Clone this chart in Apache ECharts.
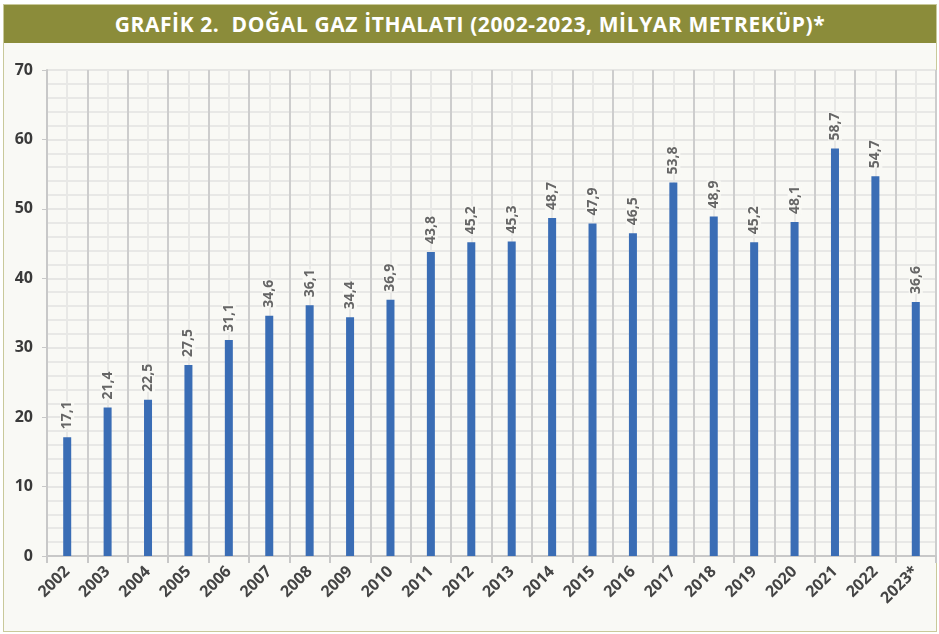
<!DOCTYPE html>
<html>
<head>
<meta charset="utf-8">
<script src="https://cdn.jsdelivr.net/npm/echarts@6/dist/echarts.min.js"></script>
<style>
  html, body { margin: 0; padding: 0; background: #ffffff; }
  .frame {
    position: absolute; left: 3px; top: 4px; width: 932px; height: 626px;
    border: 1px solid #c9c99a; background: #f9f9f5;
  }
  .title {
    height: 38px; background: #8b8c3a; color: #fff;
    font-family: "Open Sans", sans-serif; font-weight: bold; font-size: 21px;
    line-height: 38px; text-align: center; letter-spacing: 0.6px;
  }
  #chart { position: absolute; left: 0; top: 0; width: 939px; height: 634px; }
</style>
</head>
<body>
<div class="frame"><div class="title">GRAFİK 2.&nbsp; DOĞAL GAZ İTHALATI (2002-2023, MİLYAR METREKÜP)*</div></div>
<div id="chart"></div>
<script>
  // yıllar ve ithalat miktarları (milyar m3)
  var years = ['2002', '2003', '2004', '2005', '2006', '2007', '2008', '2009', '2010', '2011', '2012',
    '2013', '2014', '2015', '2016', '2017', '2018', '2019', '2020', '2021', '2022', '2023*'];
  var imports = [17.1, 21.4, 22.5, 27.5, 31.1, 34.6, 36.1, 34.4, 36.9, 43.8, 45.2,
    45.3, 48.7, 47.9, 46.5, 53.8, 48.9, 45.2, 48.1, 58.7, 54.7, 36.6];

  var chart = echarts.init(document.getElementById('chart'));
  chart.setOption({
    animation: false,
    grid: { left: 47, right: 3, top: 70, bottom: 78 },
    xAxis: [
      {
        type: 'category',
        data: years,
        axisLine: { lineStyle: { color: '#c8c8c8', width: 2 } },
        axisTick: { show: true, length: 7, lineStyle: { color: '#c8c8c8', width: 2 } },
        splitLine: { show: false },
        axisLabel: {
          rotate: 45, margin: 13, color: '#444',
          fontFamily: 'Open Sans', fontWeight: 'bold', fontSize: 16
        }
      },
      {
        type: 'value', min: 0, max: 22, interval: 1, show: true, position: 'bottom',
        axisLine: { show: false }, axisTick: { show: false }, axisLabel: { show: false },
        splitLine: { show: true, lineStyle: { color: '#cdcdcd', width: 2 } },
        minorTick: { show: false, splitNumber: 2 },
        minorSplitLine: { show: true, lineStyle: { color: '#e8e8e6', width: 2 } }
      }
    ],
    yAxis: {
      type: 'value', min: 0, max: 70, interval: 10,
      axisLine: { show: true, lineStyle: { color: '#c8c8c8', width: 2 } },
      axisTick: { show: true, length: 5, lineStyle: { color: '#c8c8c8' } },
      axisLabel: {
        margin: 14, color: '#3a3a3a',
        fontFamily: 'Open Sans', fontWeight: 'bold', fontSize: 16
      },
      splitLine: { show: true, lineStyle: { color: '#e6e6e4', width: 2 } },
      minorTick: { show: false, splitNumber: 5 },
      minorSplitLine: { show: true, lineStyle: { color: '#e8e8e6', width: 2 } }
    },
    series: [
      {
        type: 'bar',
        xAxisIndex: 0,
        data: imports,
        barWidth: 8,
        itemStyle: { color: '#3a6db5' },
        label: {
          show: true, position: 'top', rotate: 90, align: 'left', verticalAlign: 'middle',
          distance: 8, color: '#666', fontFamily: 'Open Sans', fontWeight: 'bold', fontSize: 14,
          backgroundColor: 'rgba(249,249,245,0.85)',
          formatter: function (p) { return p.value.toFixed(1).replace('.', ','); }
        }
      }
    ]
  });
</script>
</body>
</html>
